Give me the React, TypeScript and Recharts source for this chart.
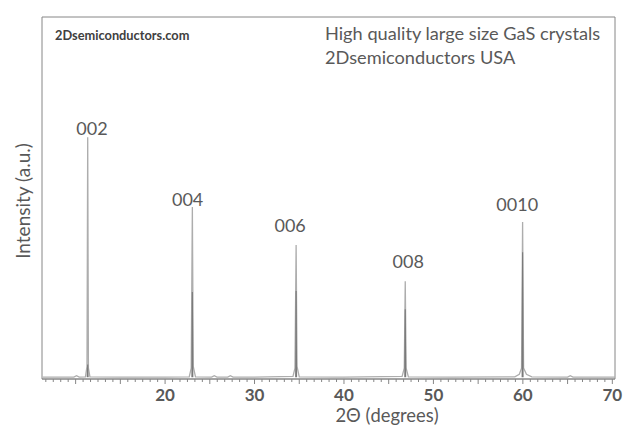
import { LineChart, Line, XAxis, YAxis, ReferenceArea, ReferenceDot } from "recharts";

// 2-theta scan (degrees / relative intensity)
const scanX = [
  6.3, 8.2, 9.8, 10.1, 10.4, 11.1, 11.27, 11.35, 11.43, 11.6, 15.0, 20.0, 22.7, 22.92, 23.05,
  23.15, 23.4, 25.2, 25.5, 25.8, 27.0, 27.3, 27.6, 30.0, 34.3, 34.52, 34.65, 34.75, 35.0,
  40.0, 46.5, 46.74, 46.85, 46.95, 47.2, 52.0, 59.1, 59.6, 59.85, 59.97, 60.08, 60.4, 61.0,
  65.0, 65.3, 65.6, 70.3,
];
const scanY = [
  0.5, 0.5, 0.5, 0.9, 0.5, 0.6, 3.5, 66.8, 3.0, 0.6, 0.5, 0.5, 0.6, 3.0, 47.5,
  3.5, 0.6, 0.5, 0.9, 0.5, 0.5, 0.9, 0.5, 0.5, 0.7, 3.0, 37.0, 3.5, 0.6,
  0.5, 0.7, 3.0, 27.0, 3.0, 0.6, 0.5, 0.6, 1.3, 3.0, 43.4, 3.0, 1.3, 0.6,
  0.5, 0.9, 0.5, 0.5,
];

// darker overlapping part of each reflection
const coreX = [11.3, 11.35, 11.4, 23.0, 23.05, 23.1, 34.6, 34.65, 34.7, 46.8, 46.85, 46.9, 59.92, 59.97, 60.02];
const coreY = [0.5, 4.0, 0.5, 0.5, 24.0, 0.5, 0.5, 24.3, 0.5, 0.5, 19.3, 0.5, 0.5, 35.0, 0.5];
const coreGroups = [0, 3, 6, 9, 12];

// peak index labels
const peakLabels = ["002", "004", "006", "008", "0010"];
const peakLabelX = [11.83, 22.52, 33.98, 47.18, 59.37];
const peakLabelY = [67.4, 47.8, 40.6, 30.7, 46.4];

const xMin = 6.24;
const xMax = 70.3;
const yMax = 100;
const labelledTicks = [20, 30, 40, 50, 60, 70];

const scanData = scanX.map((x, i) => ({ x, y: scanY[i] }));
const coreSeries = coreGroups.map((start) =>
  coreX.slice(start, start + 3).map((x, i) => ({ x, y: coreY[start + i] }))
);

// minor ticks every 5/6 degree counted down from 70, majors fall on multiples of 5
const allTicks: number[] = [];
for (let k = 0; 70 - (k * 5) / 6 >= xMin; k++) allTicks.push(+(70 - (k * 5) / 6).toFixed(4));
allTicks.reverse();

const font = "Lato, 'Open Sans', sans-serif";
const textGray = "#595959";

function AxisTick(props: any) {
  const { x, y, payload } = props;
  const v = payload.value as number;
  const major = Math.abs(v / 5 - Math.round(v / 5)) < 1e-3;
  const labelled = labelledTicks.some((t) => Math.abs(t - v) < 1e-3);
  return (
    <g>
      <line x1={x} x2={x} y1={y} y2={y + (major ? 5 : 3)} stroke="#868686" strokeWidth={1} />
      {labelled && (
        <text x={x} y={y + 22} textAnchor="middle" fill={textGray} fontSize={17} fontWeight="bold" fontFamily={font}>
          {Math.round(v)}
        </text>
      )}
    </g>
  );
}

function PeakLabel(props: any) {
  const { viewBox, value } = props;
  return (
    <text x={viewBox.x} y={viewBox.y} textAnchor="middle" fill={textGray} fontSize={18} fontFamily={font}>
      {value}
    </text>
  );
}

export default function App() {
  return (
    <div style={{ position: "absolute", left: 0, top: 0, width: 635, height: 447, background: "#fff" }}>
      <LineChart width={635} height={447} margin={{ top: 17, right: 20, bottom: 38, left: 42 }}>
        <XAxis
          type="number"
          dataKey="x"
          domain={[xMin, xMax]}
          ticks={allTicks}
          interval={0}
          allowDataOverflow
          tickLine={false}
          tickSize={0}
          tickMargin={0}
          height={30}
          axisLine={{ stroke: "#868686" }}
          tick={<AxisTick />}
        />
        <YAxis type="number" domain={[0, yMax]} hide allowDataOverflow />
        <ReferenceArea x1={xMin} x2={xMax} y1={0} y2={yMax} fill="none" stroke="#868686" strokeWidth={1} />
        <Line
          data={scanData}
          dataKey="y"
          type="linear"
          stroke="#adadad"
          strokeWidth={1.3}
          dot={false}
          isAnimationActive={false}
        />
        {coreSeries.map((d, i) => (
          <Line
            key={i}
            data={d}
            dataKey="y"
            type="linear"
            stroke="#7a7a7a"
            strokeWidth={1.1}
            dot={false}
            isAnimationActive={false}
          />
        ))}
        {peakLabels.map((p, i) => (
          <ReferenceDot
            key={p}
            x={peakLabelX[i]}
            y={peakLabelY[i]}
            r={0}
            fill="none"
            stroke="none"
            label={<PeakLabel value={p} />}
          />
        ))}
      </LineChart>
      <div style={{ position: "absolute", left: 55, top: 27, fontFamily: font, fontSize: 12.8, fontWeight: "bold", color: "#404040" }}>
        2Dsemiconductors.com
      </div>
      <div style={{ position: "absolute", left: 325, top: 21, fontFamily: font, fontSize: 18.2, lineHeight: "24px", color: textGray }}>
        High quality large size GaS crystals
        <br />
        2Dsemiconductors USA
      </div>
      <div
        style={{
          position: "absolute",
          left: 22,
          top: 201,
          transform: "translate(-50%, -50%) rotate(-90deg)",
          whiteSpace: "nowrap",
          fontFamily: font,
          fontSize: 19,
          color: textGray,
        }}
      >
        Intensity (a.u.)
      </div>
      <div style={{ position: "absolute", left: 387, top: 404, transform: "translateX(-50%)", whiteSpace: "nowrap", fontFamily: font, fontSize: 18.4, color: textGray }}>
        2Θ (degrees)
      </div>
    </div>
  );
}
